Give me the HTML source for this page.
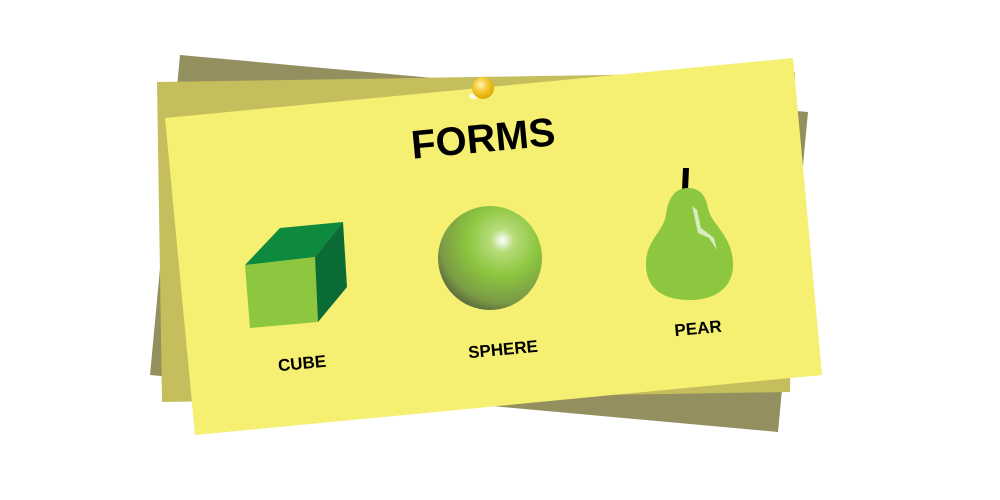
<!DOCTYPE html>
<html><head><meta charset="utf-8"><style>
html,body{margin:0;padding:0;background:#fff;width:1000px;height:500px;overflow:hidden}
text{font-family:"Liberation Sans",sans-serif;font-weight:bold;fill:#000}
</style></head><body>
<svg width="1000" height="500" viewBox="0 0 1000 500">
<defs>
<radialGradient id="sg" cx="0.62" cy="0.33" r="0.75" fx="0.62" fy="0.33">
<stop offset="0" stop-color="#ffffff"/>
<stop offset="0.15" stop-color="#b6dc7a"/>
<stop offset="0.45" stop-color="#8dc63f"/>
<stop offset="0.8" stop-color="#7a9a45"/>
<stop offset="1" stop-color="#4f5a3a"/>
</radialGradient>
<radialGradient id="pg" cx="0.4" cy="0.35" r="0.7">
<stop offset="0" stop-color="#fff6b0"/>
<stop offset="0.5" stop-color="#f3c629"/>
<stop offset="1" stop-color="#d9a400"/>
</radialGradient>
</defs>
<polygon points="180,55 808,112 778,432 150,375" fill="#948f5e"/>
<polygon points="157,82 795,72 790,392 162,402" fill="#c4be5c"/>
<polygon points="165,118 793,58 822,375 195,435" fill="#f5ef72"/>
<g>
<ellipse cx="474" cy="96" rx="5" ry="3" fill="#fff" opacity="0.8"/>
<circle cx="483" cy="88" r="11" fill="url(#pg)"/>
</g>
<text x="483" y="152" font-size="40" text-anchor="middle" transform="rotate(-5.4 483 137)">FORMS</text>
<g>
<polygon points="245,265 315,257 318,322 250,328" fill="#8dc63f"/>
<polygon points="245,265 280,228 343,222 315,257" fill="#0e8a3e"/>
<polygon points="315,257 343,222 347,287 318,322" fill="#0b6b35"/>
</g>
<circle cx="490" cy="258" r="52" fill="url(#sg)"/>
<g>
<polygon points="683,168 689,168 688,190 682,190" fill="#000"/>
<path d="M688 188 C700 188 706 196 708 208 C711 225 733 235 733 265 C733 290 712 300 690 300 C665 300 645 290 646 262 C647 240 663 232 666 215 C668 198 675 188 688 188 Z" fill="#8dc63f"/>
<path d="M692 206 L697 210 L701 228 L714 238 L717 250 L709 238 L698 233 Z" fill="#d9ecc0"/>
</g>
<text x="302" y="369" font-size="17" text-anchor="middle" transform="rotate(-5.4 302 363)">CUBE</text>
<text x="503" y="355" font-size="17" text-anchor="middle" transform="rotate(-5.4 503 349)">SPHERE</text>
<text x="698" y="334" font-size="17" text-anchor="middle" transform="rotate(-5.4 698 328)">PEAR</text>
</svg>
</body></html>
